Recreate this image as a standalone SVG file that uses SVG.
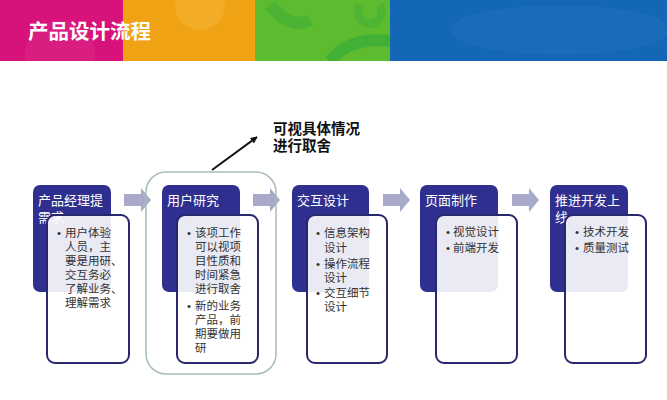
<svg xmlns="http://www.w3.org/2000/svg" width="667" height="400" viewBox="0 0 667 400">
<defs>
<style>
.hd{fill:#2f2f8f}
.card{fill:#ffffff;fill-opacity:0.9;stroke:#27276e;stroke-width:2}
.lbl{font-family:"Liberation Sans","Noto Sans CJK SC",sans-serif;font-size:13px;fill:#ffffff}
.txt{font-family:"Liberation Sans","Noto Sans CJK SC",sans-serif;font-size:11.5px;fill:#333333}
.flow{fill:#a9aac9}
.note{font-family:"Liberation Sans","Noto Sans CJK SC",sans-serif;font-size:14.5px;font-weight:bold;fill:#111111}
</style>
<clipPath id="hc"><rect x="0" y="0" width="667" height="61"/></clipPath>
<marker id="ah" viewBox="0 0 10 10" refX="9" refY="5" markerWidth="7" markerHeight="7" orient="auto" markerUnits="userSpaceOnUse">
<path d="M0,0 L10,5 L0,10 z" fill="#111"/>
</marker>
</defs>
<rect width="667" height="400" fill="#ffffff"/>
<g id="header">
<g clip-path="url(#hc)">
<rect x="0" y="0" width="124" height="61" fill="#d7137b"/>
<rect x="123" y="0" width="133" height="61" fill="#f0a215"/>
<rect x="255" y="0" width="136" height="61" fill="#5dbb2f"/>
<rect x="390" y="0" width="277" height="61" fill="#1466b6"/>
<circle cx="60" cy="55" r="35" fill="#e0338b" opacity="0.35"/>
<circle cx="200" cy="5" r="25" fill="#f4b53a" opacity="0.5"/>
<path d="M270,5 q20,25 40,15" stroke="#3fae38" stroke-width="12" fill="none" opacity="0.6"/>
<path d="M330,61 q20,-25 60,-20" stroke="#2fa83a" stroke-width="12" fill="none" opacity="0.6"/>
<path d="M360,5 a12,12 0 1 0 20,0" stroke="#3fae38" stroke-width="8" fill="none" opacity="0.5"/>
<ellipse cx="560" cy="30" rx="110" ry="25" fill="#2a78c4" opacity="0.3"/>
</g>
<text x="28" y="39" font-family="'Noto Sans CJK SC',sans-serif" font-size="20.5" font-weight="bold" fill="#ffffff">产品设计流程</text>
</g>
<g id="note">
<text class="note" x="273" y="134">可视具体情况</text>
<text class="note" x="273" y="151">进行取舍</text>
</g>
<g id="connectors">
<line x1="212" y1="170" x2="257" y2="137" stroke="#111" stroke-width="2" marker-end="url(#ah)"/>
<path class="flow" d="M124,194 h17 v-6 l10,12 l-10,12 v-6 h-17 z"/>
<path class="flow" d="M253,194 h17 v-6 l10,12 l-10,12 v-6 h-17 z"/>
<path class="flow" d="M383,194 h17 v-6 l10,12 l-10,12 v-6 h-17 z"/>
<path class="flow" d="M512,194 h17 v-6 l10,12 l-10,12 v-6 h-17 z"/>
</g>
<g id="frame">
<rect x="146" y="172" width="130" height="202" rx="20" fill="none" stroke="#a7bdb4" stroke-width="1.5"/>
</g>
<g id="node1">
<rect class="hd" x="33" y="185" width="78" height="107" rx="7"/>
<text class="lbl" x="38" y="205">产品经理提</text>
<text class="lbl" x="38" y="222">需求</text>
<rect class="card" x="47" y="215" width="82" height="148" rx="8"/>
<text class="txt"><tspan x="57" y="237">•</tspan><tspan x="65" y="237">用户体验</tspan><tspan x="65" y="251">人员，主</tspan><tspan x="65" y="265">要是用研、</tspan><tspan x="65" y="279">交互务必</tspan><tspan x="65" y="293">了解业务、</tspan><tspan x="65" y="307">理解需求</tspan></text>
</g>
<g id="node2">
<rect class="hd" x="162" y="185" width="78" height="107" rx="7"/>
<text class="lbl" x="167" y="205">用户研究</text>
<rect class="card" x="177" y="215" width="81" height="148" rx="8"/>
<text class="txt"><tspan x="187" y="237">•</tspan><tspan x="195" y="237">该项工作</tspan><tspan x="195" y="251">可以视项</tspan><tspan x="195" y="265">目性质和</tspan><tspan x="195" y="279">时间紧急</tspan><tspan x="195" y="293">进行取舍</tspan><tspan x="187" y="310">•</tspan><tspan x="195" y="310">新的业务</tspan><tspan x="195" y="324">产品，前</tspan><tspan x="195" y="338">期要做用</tspan><tspan x="195" y="352">研</tspan></text>
</g>
<g id="node3">
<rect class="hd" x="292" y="185" width="77" height="107" rx="7"/>
<text class="lbl" x="297" y="205">交互设计</text>
<rect class="card" x="307" y="215" width="80" height="148" rx="8"/>
<text class="txt"><tspan x="316" y="237">•</tspan><tspan x="324" y="237">信息架构</tspan><tspan x="324" y="252">设计</tspan><tspan x="316" y="268">•</tspan><tspan x="324" y="268">操作流程</tspan><tspan x="324" y="282">设计</tspan><tspan x="316" y="297">•</tspan><tspan x="324" y="297">交互细节</tspan><tspan x="324" y="311">设计</tspan></text>
</g>
<g id="node4">
<rect class="hd" x="420" y="185" width="78" height="107" rx="7"/>
<text class="lbl" x="425" y="205">页面制作</text>
<rect class="card" x="436" y="215" width="81" height="148" rx="8"/>
<text class="txt"><tspan x="446" y="236">•</tspan><tspan x="453" y="236">视觉设计</tspan><tspan x="446" y="252">•</tspan><tspan x="453" y="252">前端开发</tspan></text>
</g>
<g id="node5">
<rect class="hd" x="550" y="185" width="78" height="107" rx="7"/>
<text class="lbl" x="555" y="205">推进开发上</text>
<text class="lbl" x="555" y="222">线</text>
<rect class="card" x="565" y="215" width="81" height="148" rx="8"/>
<text class="txt"><tspan x="575" y="236">•</tspan><tspan x="583" y="236">技术开发</tspan><tspan x="575" y="252">•</tspan><tspan x="583" y="252">质量测试</tspan></text>
</g>
</svg>
